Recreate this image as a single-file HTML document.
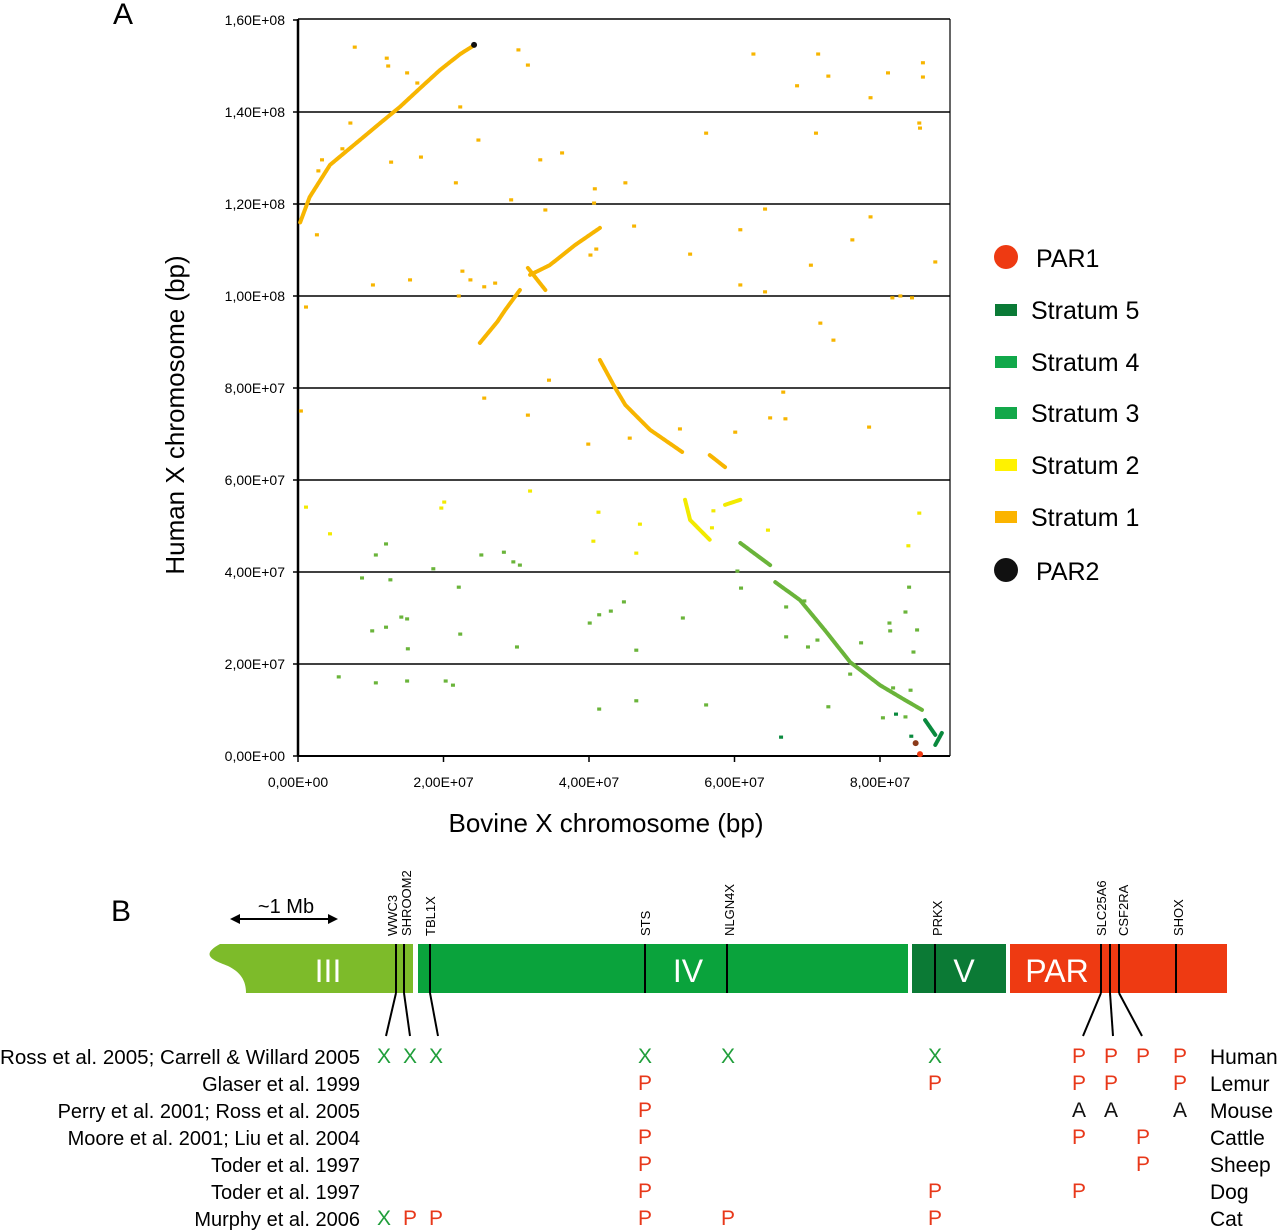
<!DOCTYPE html>
<html><head><meta charset="utf-8"><style>
body{margin:0;background:#fff;}
svg{display:block;font-family:"Liberation Sans",Arial,sans-serif;}
</style></head><body>
<svg id="fig" width="1280" height="1232" viewBox="0 0 1280 1232">
<text x="113" y="24" font-size="30">A</text>
<g id="plot"></g>
<text x="0" y="0" transform="translate(184,415) rotate(-90)" text-anchor="middle" font-size="26">Human X chromosome (bp)</text>
<text x="606" y="832" text-anchor="middle" font-size="26">Bovine X chromosome (bp)</text>
<g id="legend"></g>
<text x="111" y="921" font-size="30">B</text>
<g id="partb"></g>
</svg>
<script>
const NS='http://www.w3.org/2000/svg';
function mk(tag,attrs,parent,txt){const e=document.createElementNS(NS,tag);for(const k in attrs)e.setAttribute(k,attrs[k]);if(txt!==undefined)e.textContent=txt;parent.appendChild(e);return e;}
// ---- chart data (Mb) ----
const yTicks=[0,20,40,60,80,100,120,140,160];
const yTickLabels=['0,00E+00','2,00E+07','4,00E+07','6,00E+07','8,00E+07','1,00E+08','1,20E+08','1,40E+08','1,60E+08'];
const xTicks=[0,20,40,60,80];
const xTickLabels=['0,00E+00','2,00E+07','4,00E+07','6,00E+07','8,00E+07'];
const s1Segments=[
 [[0.3,116],[1.6,121.5],[4.4,128.5],[8.5,133.9],[11.3,137.6],[14,141.1],[16.8,145.2],[19.5,149.1],[22.3,152.6],[24.3,154.6]],
 [[25,89.8],[27.4,94.4],[28.5,97],[30.5,101.3]],
 [[31.9,104.6],[34.6,106.7],[38.1,111.1],[41.5,114.8]],
 [[31.6,106.1],[34,101.3]],
 [[41.5,86.1],[43.6,80],[45,76.3],[48.4,70.9],[52.8,66.1]],
 [[56.6,65.4],[58.7,62.8]]];
const s2Segments=[[[53.2,55.7],[53.9,51.3],[56.6,47]],[[58.7,54.6],[60.8,55.7]]];
const s3Segments=[[[60.8,46.3],[64.9,41.5]],[[65.6,37.8],[69,33.9],[72.4,27.4],[75.9,20.4],[80,15.4],[83.4,12.2],[85.8,10]]];
const s5Segments=[[[86.2,7.8],[87.6,4.6]],[[87.6,2.4],[88.5,5]]];
const s1X=[7.8,12.2,12.4,15,16.4,22.3,30.3,31.6,62.6,71.5,72.9,68.6,81.1,78.7,85.9,85.9,85.4,85.5,56.1,71.2,24.8,7.2,6.1,2.8,3.3,12.8,16.9,33.3,36.3,40.8,45,29.3,34,21.7,2.6,46.2,40.7,41,40.2,53.9,60.8,64.2,78.7,76.2,70.5,60.8,64.2,71.8,73.6,82.8,84.4,81.7,87.6,10.3,22.1,22.6,15.4,1.1,25.6,27.1,23.7,0.4,25.6,31.6,39.9,45.6,52.5,60.1,64.9,67,78.5,66.7,34.5];
const s1Y=[154.1,151.7,150,148.5,146.3,141.1,153.5,150.2,152.6,152.6,147.8,145.7,148.5,143.1,150.7,147.6,137.6,136.5,135.4,135.4,133.9,137.6,132,127.2,129.6,129.1,130.2,129.6,131.1,123.3,124.6,120.9,118.7,124.6,113.3,115.2,120.2,110.2,108.9,109.1,114.4,118.9,117.2,112.2,106.7,102.4,100.9,94.1,90.4,100,99.6,99.6,107.4,102.4,100,105.4,103.5,97.6,102,102.8,103.5,75,77.8,74.1,67.8,69.1,71.1,70.4,73.5,73.3,71.5,79.1,81.7];
const s2X=[1.1,4.4,20.1,19.7,31.9,41.3,40.6,47,46.5,56.9,57.1,64.6,83.9,85.4];
const s2Y=[54.1,48.3,55.2,53.9,57.6,53,46.7,50.4,44.1,49.6,53.3,49.1,45.7,52.8];
const s3X=[12.7,12.1,10.7,25.2,28.3,29.6,30.5,18.6,8.8,22.1,14.2,15,12.1,22.3,15.1,10.2,5.6,30.1,40.1,41.4,43,44.8,46.5,52.9,60.9,67.1,69.6,67.1,70.1,71.4,77.4,84,83.5,81.4,85.1,81.3,84.6,84.2,83.5,80.4,10.7,15,20.3,21.3,41.4,46.5,56.1,72.9,75.9,81.8,60.4];
const s3Y=[38.3,46.1,43.7,43.7,44.3,42.2,41.5,40.7,38.7,36.7,30.2,29.8,28,26.5,23.3,27.2,17.2,23.7,28.9,30.7,31.5,33.5,23,30,36.5,32.4,33.7,25.9,23.7,25.2,24.6,36.7,31.3,27.2,27.4,28.9,22.6,14.3,8.5,8.3,15.9,16.3,16.3,15.4,10.2,12,11.1,10.7,17.8,14.8,40.2];
const s5X=[66.4,84.3,82.2];
const s5Y=[4.1,4.3,9.1];
const par1X=[85.5,84.9];
const par1Y=[0.4,2.8];
const par2X=[24.2];
const par2Y=[154.6];
// ---- axes ----
const X0=298,X1=950,Y0=756,Y1=19;
const xs=v=>X0+v*(145.5/20);
const ys=v=>Y0-v*(92/20);
const C={s1:'#f7b500',s2:'#f2ea00',s3:'#6ab43a',s5:'#0a8a3e',par1:'#ee3a12',par2:'#111'};
const plot=document.getElementById('plot');
mk('line',{x1:X0,y1:Y1,x2:X1,y2:Y1,stroke:'#000','stroke-width':1.5},plot);
mk('line',{x1:X1,y1:Y1,x2:X1,y2:Y0,stroke:'#000','stroke-width':1.2},plot);
yTicks.forEach((t,i)=>{
  if(t>0&&t<160){const g=mk('line',{x1:X0,y1:ys(t),x2:X1,y2:ys(t),stroke:'#000','stroke-width':1.5},plot);
  
  }
  const tk=mk('line',{x1:X0-5,y1:ys(t),x2:X0,y2:ys(t),stroke:'#000','stroke-width':1.5},plot);
  
  const l=mk('text',{x:X0-13,y:ys(t)+5,'text-anchor':'end','font-size':14},plot,yTickLabels[i]);
  
  
});
xTicks.forEach((t,i)=>{
  const tk=mk('line',{x1:xs(t),y1:Y0,x2:xs(t),y2:Y0+6,stroke:'#000','stroke-width':1.5},plot);
  
  const l=mk('text',{x:xs(t),y:Y0+31,'text-anchor':'middle','font-size':14},plot,xTickLabels[i]);
  
  
});
const ax=mk('line',{x1:X0,y1:Y1,x2:X0,y2:Y0,stroke:'#000','stroke-width':2.5},plot);

const bx=mk('line',{x1:X0,y1:Y0,x2:X1,y2:Y0,stroke:'#000','stroke-width':2},plot);

function segs(list,col,name){list.forEach(s=>{const p=mk('polyline',{points:s.map(q=>xs(q[0])+','+ys(q[1])).join(' '),fill:'none',stroke:col,'stroke-width':4,'stroke-dasharray':'3 0.8','stroke-linecap':'round'},plot);
 
 });}
function pts(X,Y,col,name,r){X.forEach((x,i)=>{const c=mk('rect',{x:xs(x)-r,y:ys(Y[i])-r*0.8,width:2*r,height:1.6*r,fill:col},plot);
 
 });}
segs(s1Segments,C.s1,'stratum1-segment');segs(s2Segments,C.s2,'stratum2-segment');segs(s3Segments,C.s3,'stratum3-segment');segs(s5Segments,C.s5,'stratum5-segment');
pts(s1X,s1Y,C.s1,'stratum1-point',2);pts(s2X,s2Y,C.s2,'stratum2-point',2);pts(s3X,s3Y,C.s3,'stratum3-point',2);pts(s5X,s5Y,C.s5,'stratum5-point',2);
par1X.forEach((x,i)=>{const c=mk('circle',{cx:xs(x),cy:ys(par1Y[i]),r:3,fill:i?'#8b3a1a':C.par1},plot);
 
 });
par2X.forEach((x,i)=>{const c=mk('circle',{cx:xs(x),cy:ys(par2Y[i]),r:3,fill:C.par2},plot);
 
 });
// ---- legend ----
const lg=document.getElementById('legend');
const legNames=['PAR1','Stratum 5','Stratum 4','Stratum 3','Stratum 2','Stratum 1','PAR2'];
const legCols=['#ee3a12','#0a7a36','#11a84a','#13a84a','#fff200','#fbb400','#111'];
const legY=[257,310,362,413,465,517,570];
legNames.forEach((n,i)=>{
  const g=mk('g',{},lg);
  
  
  if(i===0||i===6){mk('circle',{cx:1006,cy:legY[i],r:12,fill:legCols[i]},g);mk('text',{x:1036,y:legY[i]+10,'font-size':25},g,n);}
  else{mk('rect',{x:995,y:legY[i]-6,width:22,height:12,fill:legCols[i]},g);mk('text',{x:1031,y:legY[i]+9,'font-size':25},g,n);}
});
// ---- part B ----
const pb=document.getElementById('partb');
function el(tag,a,name,txt){const e=mk(tag,a,pb,txt);return e;}
el('line',{x1:238,y1:919,x2:330,y2:919,stroke:'#000','stroke-width':2},'scale-arrow');
el('path',{d:'M230 919 l10 -5 v10 z M338 919 l-10 -5 v10 z',fill:'#000'},'scale-arrow-heads');
el('text',{x:286,y:913,'text-anchor':'middle','font-size':20},'scale-label','~1 Mb');
el('path',{d:'M220 944 H413 V993 H246 C246 980 240 972 228 966 C212 960 200 955 220 944 Z',fill:'#7dbb2a'},'segment-iii');
el('rect',{x:418,y:944,width:490,height:49,fill:'#0aa33c'},'segment-iv');
el('rect',{x:912,y:944,width:94,height:49,fill:'#0b7a35'},'segment-v');
el('rect',{x:1010,y:944,width:217,height:49,fill:'#ee3a12'},'segment-par');
[['III',328],['IV',688],['V',964],['PAR',1057]].forEach(s=>el('text',{x:s[1],y:982,'text-anchor':'middle','font-size':32,fill:'#fff'},'segment-label',s[0]));
[396,404,430,645,727,935,1101,1110,1119,1176].forEach(x=>el('line',{x1:x,y1:944,x2:x,y2:993,stroke:'#000','stroke-width':2},'gene-marker'));
[[396,386],[404,410],[430,438],[1101,1083],[1110,1113],[1119,1142]].forEach(p=>el('line',{x1:p[0],y1:993,x2:p[1],y2:1036,stroke:'#000','stroke-width':2},'gene-connector'));
[['WWC3',397],['SHROOM2',411],['TBL1X',435],['STS',650],['NLGN4X',734],['PRKX',942],['SLC25A6',1106],['CSF2RA',1128],['SHOX',1183]].forEach(g=>el('text',{x:0,y:0,transform:`translate(${g[1]},936) rotate(-90)`,'font-size':13},'gene-label',g[0]));
const refs=['Ross et al. 2005; Carrell & Willard 2005','Glaser et al. 1999','Perry et al. 2001; Ross et al. 2005','Moore et al. 2001; Liu et al. 2004','Toder et al. 1997','Toder et al. 1997','Murphy et al. 2006'];
const species=['Human','Lemur','Mouse','Cattle','Sheep','Dog','Cat'];
const cols=[384,410,436,645,728,935,1079,1111,1143,1180];
const rowCols=[[0,1,2,3,4,5,6,7,8,9],[3,5,6,7,9],[3,6,7,9],[3,6,8],[3,8],[3,5,6],[0,1,2,3,4,5]];
const rowMarks=[['X','X','X','X','X','X','P','P','P','P'],['P','P','P','P','P'],['P','A','A','A'],['P','P','P'],['P','P'],['P','P','P'],['X','P','P','P','P','P']];
refs.forEach((r,i)=>{
  const y=1064+i*27;
  el('text',{x:360,y:y,'text-anchor':'end','font-size':20,textLength:i===0?360:null,lengthAdjust:'spacingAndGlyphs'},'reference-label',r);
  el('text',{x:1210,y:y,'font-size':21},'species-label',species[i]);
  rowCols[i].forEach((c,j)=>{const m=rowMarks[i][j];
    el('text',{x:cols[c],y:y-1,'text-anchor':'middle','font-size':21,fill:m==='X'?'#1f9e3a':(m==='A'?'#111':'#e8381a')},'evidence-mark',m);});
});
document.querySelectorAll('[textLength=""],[textLength="null"]').forEach(e=>{e.removeAttribute('textLength');e.removeAttribute('lengthAdjust');});
</script>
</body></html>
